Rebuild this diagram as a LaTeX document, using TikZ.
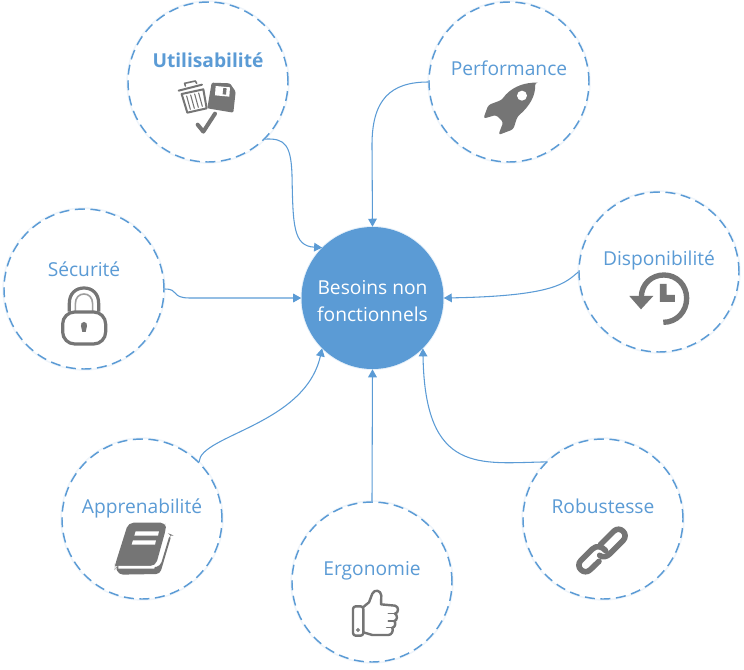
\documentclass[tikz,border=0pt]{standalone}
\usepackage{fontspec}
\setmainfont{Open Sans}
\usepackage{tikz}
\usetikzlibrary{arrows.meta}
\definecolor{needBlue}{HTML}{5B9BD5}
\definecolor{iconGray}{HTML}{757575}

\begin{document}
\begin{tikzpicture}[
  x=0.75pt, y=-0.75pt,
  >={Triangle[length=6pt,width=6.5pt]},
  link/.style={->, draw=needBlue, line width=0.8pt},
  topic/.style={circle, draw=needBlue, line width=1.1pt, dash pattern=on 7.5pt off 4.2pt,
    fill=white, minimum size=120pt, inner sep=0pt,
    preaction={draw=needBlue!10, solid, line width=2.5pt}},
  hub/.style={circle, fill=needBlue, minimum size=106.5pt, inner sep=0pt,
    preaction={draw=needBlue!15, solid, line width=1.5pt}},
  caption/.style={font=\fontsize{14.4}{16}\selectfont, text=needBlue, inner sep=0pt, anchor=base},
  hubtext/.style={font=\fontsize{14.4}{16}\selectfont, text=white, inner sep=0pt, anchor=base},
  iconline/.style={draw=iconGray, line cap=round, line join=round},
  zoomed/.style={scale=0.3333}
]
  \useasboundingbox (0,0) rectangle (744,669);

  \node[hub] (needs) at (372.5,298) {};
  \node[topic] (usability) at (208,82) {};
  \node[topic] (performance) at (509,82) {};
  \node[topic] (availability) at (659,272) {};
  \node[topic] (security) at (84,289) {};
  \node[topic] (learnability) at (142,519) {};
  \node[topic] (ergonomics) at (372,582) {};
  \node[topic] (robustness) at (603,519) {};

  \node[hubtext] (needsA) at (372.5,294.5) {Besoins non};
  \node[hubtext] (needsB) at (372.5,321) {fonctionnels};
  \node[caption, font=\fontsize{14.4}{16}\selectfont\bfseries] (usabilityText) at (208,67) {Utilisabilité};
  \node[caption] (performanceText) at (509,75) {Performance};
  \node[caption] (availabilityText) at (659,265) {Disponibilité};
  \node[caption] (securityText) at (84,276) {Sécurité};
  \node[caption] (learnabilityText) at (142,513) {Apprenabilité};
  \node[caption] (ergonomicsText) at (372,575) {Ergonomie};
  \node[caption] (robustnessText) at (603,513) {Robustesse};

  % Connectors
  \draw[link] (usability.-45) .. controls (285,138) and (291,145) .. (292,175)
    .. controls (293,225) and (293,246) .. (needs.135);
  \draw[link] (performance.west) .. controls (390,82) and (372,100) .. (372,145) -- (needs.north);
  \draw[link] (availability.west) .. controls (565,283) and (555,296) .. (needs.east);
  \draw[link] (security.east) .. controls (180,289) and (170,298) .. (190,298) -- (needs.west);
  \draw[link] (learnability.45) .. controls (200,435) and (305,425) .. (needs.-135);
  \draw[link] (ergonomics.north) -- (needs.south);
  \draw[link] (robustness.135) .. controls (480,463) and (425,475) .. (needs.-45);

  % Trash, floppy and check
  \begin{scope}[shift={(120,0)}, zoomed]
    \draw[iconline, line width=1.5pt, fill=white] (185,282) -- (250,268) -- (260,325) -- (202,338) -- cycle;
    \draw[iconline, line width=1.5pt, fill=white] (176,272) -- (246,254);
    \draw[iconline, line width=1.2pt] (196,258) -- (194,250) -- (226,243) -- (230,250);
    \foreach \x in {0,12,24,36} {
      \draw[iconline, line width=0.8pt] (200+\x,288-\x/4) -- (211+\x,328-\x/4);
    }
    \fill[iconGray, rounded corners=1pt] (275,248) -- (330,250) -- (347,275) -- (340,338) -- (262,325) -- cycle;
    \fill[white] (287,258) -- (330,262) -- (328,290) -- (285,286) -- cycle;
    \fill[iconGray] (310,264) -- (320,265) -- (318,284) -- (308,283) -- cycle;
    \draw[iconline, line width=3pt] (233,374) -- (250,395) -- (285,341);
  \end{scope}

  % Rocket
  \begin{scope}[shift={(420,0)}, zoomed]
    \fill[iconGray, rounded corners=2pt] (345,248) .. controls (305,250) and (270,265) .. (245,300)
      -- (205,315) -- (190,356) -- (228,345) -- (250,366) -- (235,405) -- (280,388)
      -- (292,350) .. controls (330,318) and (347,285) .. cycle;
    \fill[white] (306,287) circle (15);
  \end{scope}

  % Clock with back arrow
  \begin{scope}[shift={(570,190)}, zoomed]
    \draw[draw=iconGray, line width=4pt] (214,322) .. controls (214,282) and (245,255) .. (282,255)
      .. controls (320,255) and (350,285) .. (350,325) .. controls (350,365) and (320,397) .. (280,397);
    \fill[iconGray] (178,318) -- (250,318) -- (213,358) -- cycle;
    \fill[iconGray] (270,282) -- (290,282) -- (290,315) -- (315,315) -- (315,336) -- (270,336) -- cycle;
  \end{scope}

  % Padlock
  \begin{scope}[shift={(0,200)}, zoomed]
    \draw[iconGray, line width=2.4pt] (208,335) -- (208,310) .. controls (208,280) and (228,264) .. (252,264)
      .. controls (276,264) and (296,280) .. (296,310) -- (296,335);
    \draw[iconGray!70, line width=1.2pt] (226,335) -- (226,312) .. controls (226,292) and (238,282) .. (252,282)
      .. controls (266,282) and (278,292) .. (278,312) -- (278,335);
    \draw[iconGray, line width=2.4pt, fill=white, rounded corners=9pt] (188,336) rectangle (317,432);
    \fill[iconGray] (252,366) .. controls (245,366) and (242,372) .. (243,378)
      -- (247,396) -- (257,396) -- (261,378) .. controls (262,372) and (259,366) .. cycle;
  \end{scope}

  % Book
  \begin{scope}[shift={(55,430)}, zoomed]
    \fill[iconGray, rounded corners=4pt] (220,278) -- (333,278) -- (333,296) -- (302,408) -- (190,408) -- (180,416) -- (180,405) -- cycle;
    \fill[iconGray, rounded corners=3pt] (180,408) -- (195,412) -- (300,412) -- (316,408) -- (345,312) -- (350,314) -- (315,432) -- (192,434) -- cycle;
    \fill[white] (190,408) -- (300,408) -- (298,416) -- (190,416) -- cycle;
    \fill[white] (242,304) -- (312,304) -- (309,317) -- (238,317) -- cycle;
    \fill[white] (234,331) -- (303,331) -- (300,344) -- (230,344) -- cycle;
  \end{scope}

  % Thumb up
  \begin{scope}[shift={(285,495)}, zoomed]
    \draw[iconline, line width=1.8pt, rounded corners=2pt] (204,334) rectangle (235,422);
    \draw[iconGray, line width=0.8pt] (219,405) circle (4);
    \draw[iconline, line width=1.8pt] (235,336) -- (252,322) -- (262,296) .. controls (268,282) and (288,285) .. (289,302)
      -- (288,328) -- (330,332) .. controls (342,334) and (342,354) .. (330,356)
      .. controls (338,360) and (338,376) .. (328,378) .. controls (334,384) and (330,398) .. (322,398)
      .. controls (326,408) and (320,420) .. (310,420) -- (262,420) -- (235,412);
    \draw[iconline, line width=1.2pt] (310,356) -- (330,356) (310,378) -- (328,378) (305,398) -- (322,398);
  \end{scope}

  % Chain link
  \begin{scope}[shift={(515,430)}, zoomed]
    \draw[iconline, line width=4.2pt] (256,344) -- (296,304) .. controls (315,285) and (343,313) .. (324,332)
      -- (284,372) .. controls (276,380) and (262,384) .. (254,376);
    \draw[iconline, line width=4.2pt] (272,362) .. controls (262,350) and (245,344) .. (231,358) -- (198,391)
      .. controls (179,410) and (207,438) .. (226,419) -- (252,394) ;
  \end{scope}
\end{tikzpicture}
\end{document}
